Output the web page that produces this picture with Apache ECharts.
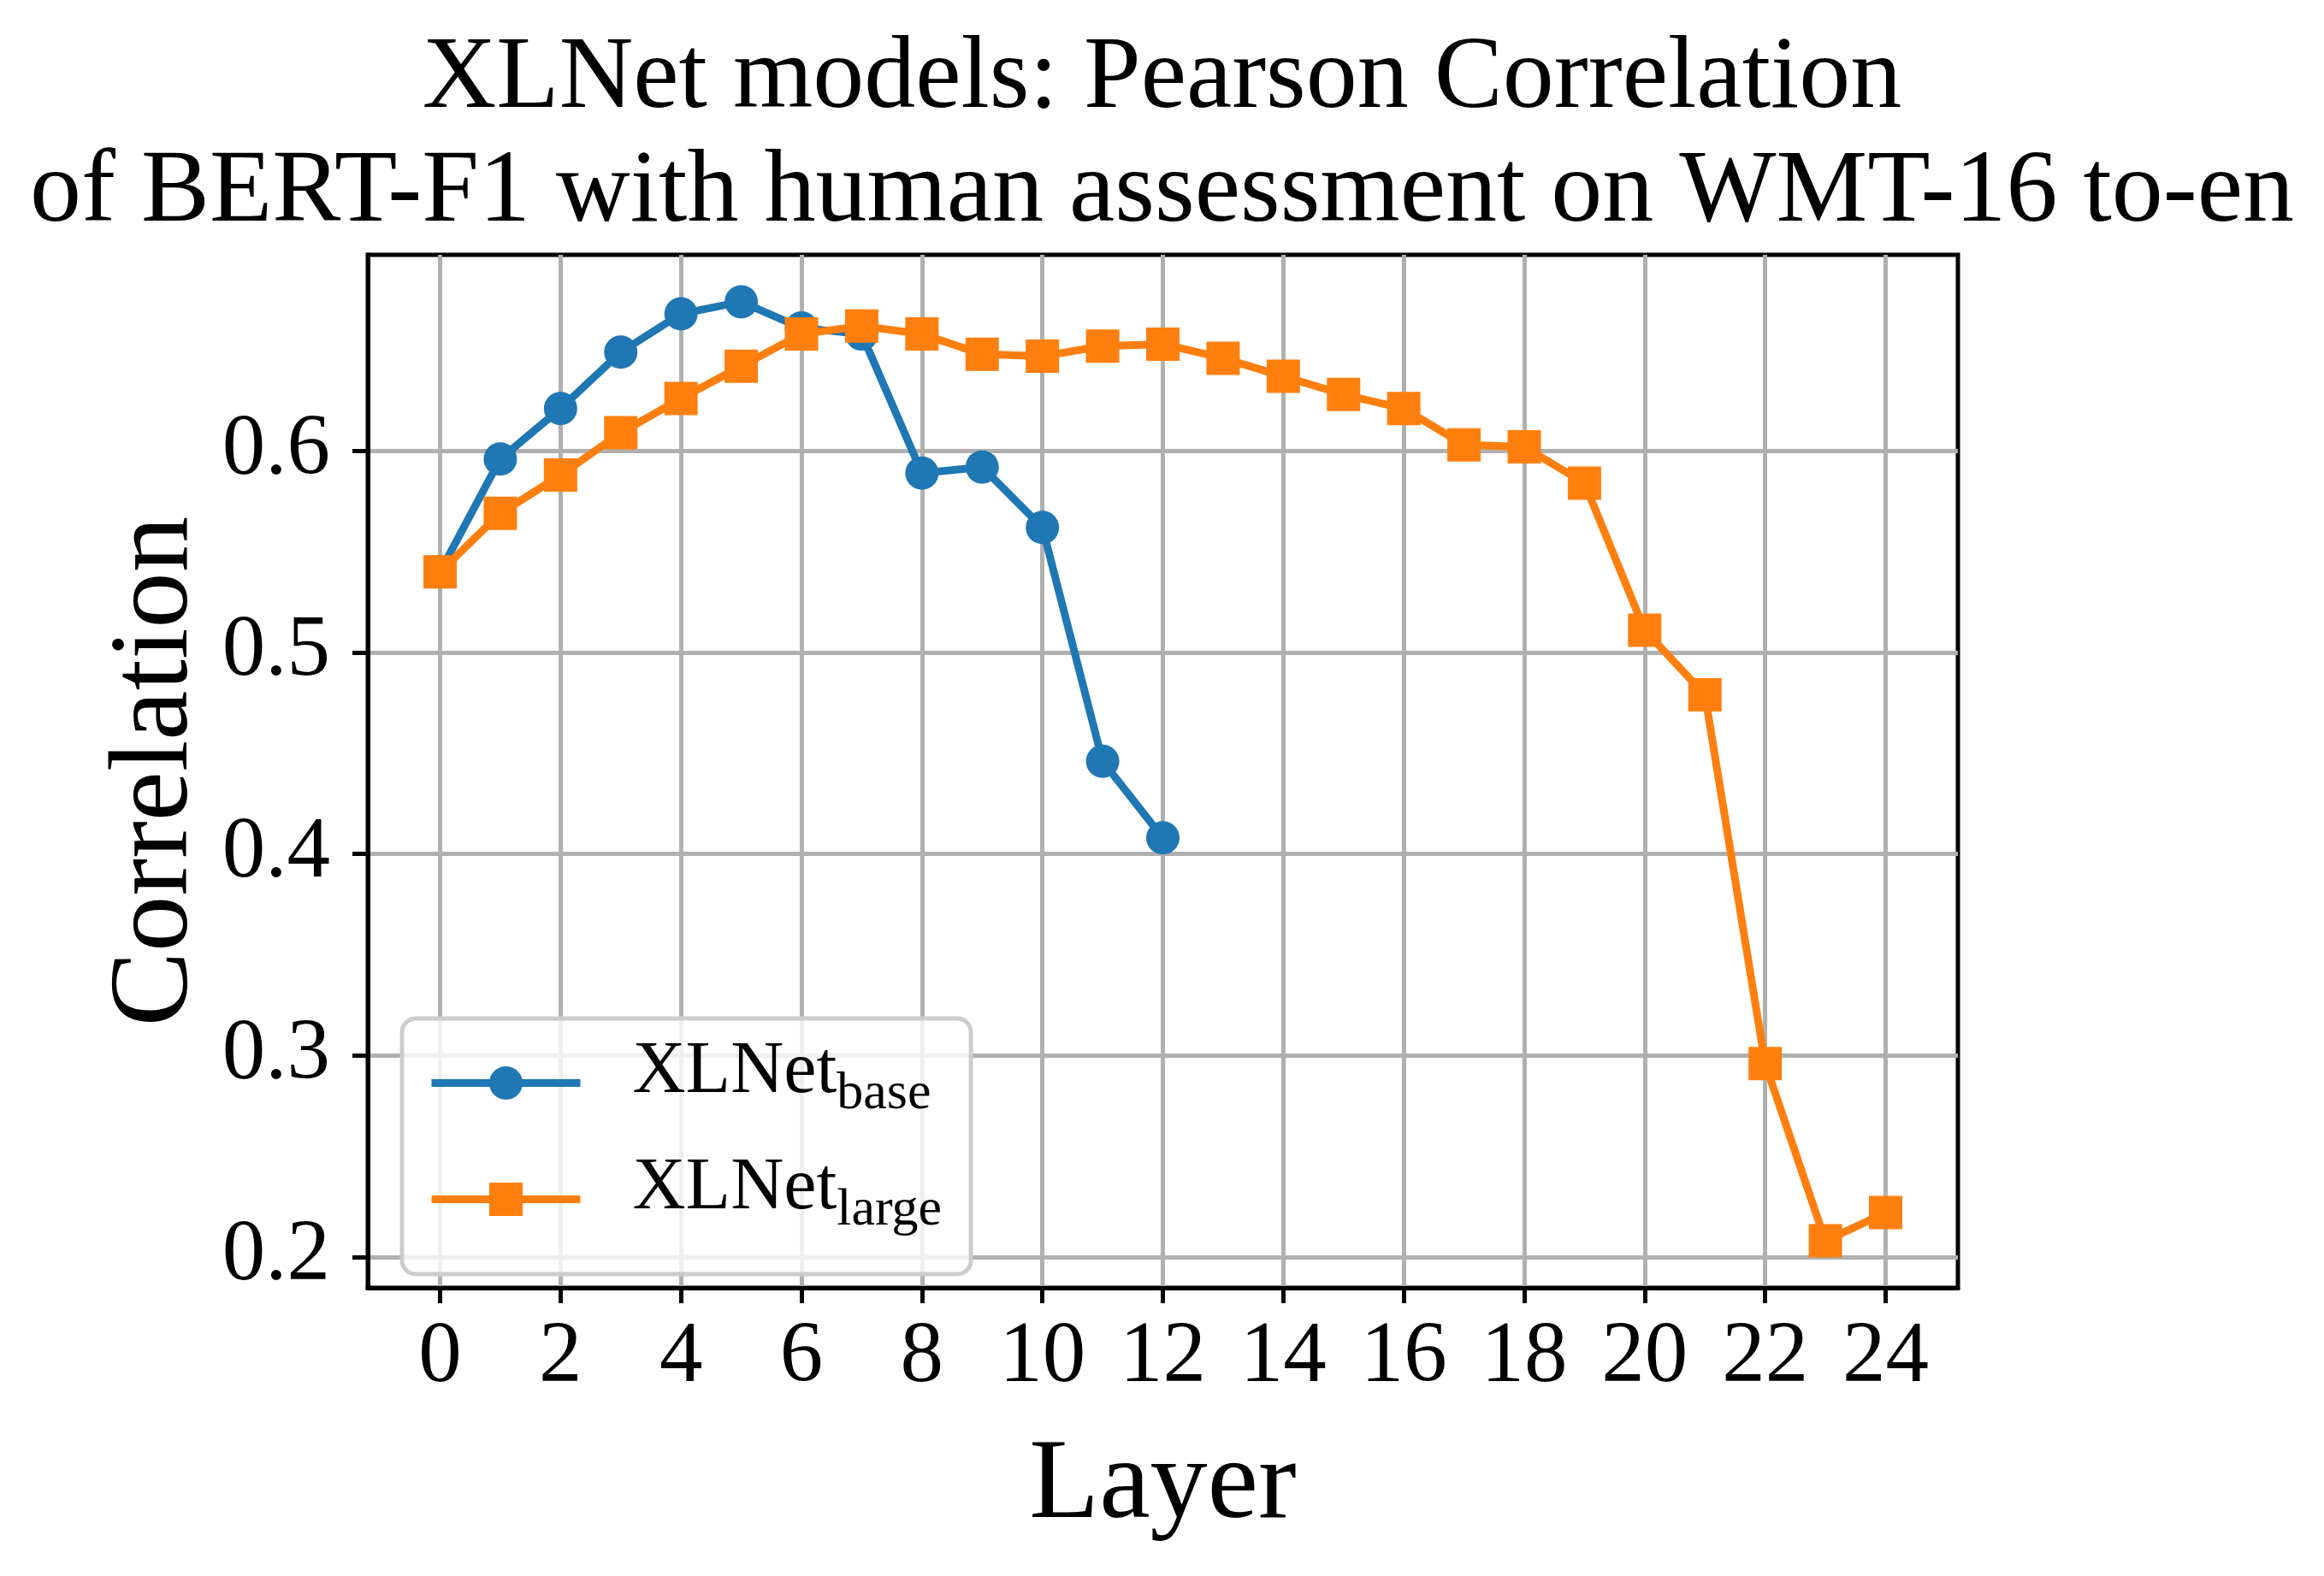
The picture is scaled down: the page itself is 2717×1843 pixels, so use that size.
<!DOCTYPE html>
<html>
<head>
<meta charset="utf-8">
<script src="https://cdn.jsdelivr.net/npm/echarts@6/dist/echarts.min.js"></script>
<style>
html,body{margin:0;padding:0;background:#fff;}
#chart{width:2717px;height:1843px;}
</style>
</head>
<body>
<div id="chart"></div>
<script>
// ---- data ----
const baseLayers = [0,1,2,3,4,5,6,7,8,9,10,11,12];
const baseCorr   = [0.540,0.596,0.621,0.649,0.668,0.674,0.661,0.658,0.589,0.592,0.562,0.446,0.408];
const largeLayers = [0,1,2,3,4,5,6,7,8,9,10,11,12,13,14,15,16,17,18,19,20,21,22,23,24];
const largeCorr   = [0.540,0.569,0.588,0.609,0.626,0.642,0.658,0.662,0.658,0.648,0.647,0.652,0.653,0.646,0.637,0.628,0.621,0.603,0.602,0.584,0.511,0.479,0.296,0.208,0.222];
const xTicks = [0,2,4,6,8,10,12,14,16,18,20,22,24];
const yTicks = [0.2,0.3,0.4,0.5,0.6];
const seriesNames = ['XLNet_base','XLNet_large'];
const legendSubs = ['base','large'];
const titleText = 'XLNet models: Pearson Correlation\nof BERT-F1 with human assessment on WMT-16 to-en';
const xName = 'Layer';
const yName = 'Correlation';

// matplotlib-like 5% margins
function range(vals){
  const mn = Math.min(...vals), mx = Math.max(...vals), pad = (mx-mn)*0.05;
  return [mn-pad, mx+pad];
}
const xr = range(largeLayers.concat(baseLayers));
const yr = range(baseCorr.concat(largeCorr));

const FONT = 'Liberation Serif';
const chart = echarts.init(document.getElementById('chart'), null, {renderer:'canvas'});
chart.setOption({
  animation:false,
  backgroundColor:'#ffffff',
  title:{
    text:titleText,
    left:'center', top:22,
    textStyle:{fontFamily:FONT, fontSize:120, lineHeight:133, fontWeight:'normal', color:'#000'}
  },
  grid:{left:430, top:298, right:428, bottom:337, show:true, borderColor:'#000', borderWidth:5, backgroundColor:'#fff'},
  xAxis:{
    type:'value', min:xr[0], max:xr[1],
    name:xName, nameLocation:'middle', nameGap:166,
    nameTextStyle:{fontFamily:FONT, fontSize:134, color:'#000'},
    axisLine:{show:true, onZero:false, lineStyle:{color:'#000', width:5}},
    axisTick:{show:true, customValues:xTicks, length:18, lineStyle:{color:'#000', width:5}},
    axisLabel:{customValues:xTicks, fontFamily:FONT, fontSize:101, color:'#000', margin:32},
    splitLine:{show:true, lineStyle:{color:'#b0b0b0', width:5}}
  },
  yAxis:{
    type:'value', min:yr[0], max:yr[1],
    name:yName, nameLocation:'middle', nameGap:172,
    nameTextStyle:{fontFamily:FONT, fontSize:131, color:'#000'},
    axisLine:{show:true, onZero:false, lineStyle:{color:'#000', width:5}},
    axisTick:{show:true, customValues:yTicks, length:18, lineStyle:{color:'#000', width:5}},
    axisLabel:{customValues:yTicks, fontFamily:FONT, fontSize:101, color:'#000', margin:44,
      formatter:function(v){return v.toFixed(1);}},
    splitLine:{show:true, lineStyle:{color:'#b0b0b0', width:5}}
  },
  legend:{
    orient:'vertical', left:470, top:1191,
    padding:[20,34,32,30],
    itemWidth:174, itemHeight:49, itemGap:25,
    backgroundColor:'rgba(255,255,255,0.8)',
    borderColor:'#cccccc', borderWidth:5, borderRadius:16,
    lineStyle:{width:9},
    data:seriesNames,
    formatter:function(name){
      const i = seriesNames.indexOf(name);
      return '{a|XLNet}{b|' + legendSubs[i] + '}';
    },
    textStyle:{
      fontFamily:FONT, color:'#000',
      rich:{
        a:{fontFamily:FONT, fontSize:86, lineHeight:100, padding:[0,0,25,56], color:'#000'},
        b:{fontFamily:FONT, fontSize:62, lineHeight:100, padding:[27,0,0,0], color:'#000'}
      }
    }
  },
  series:[
    {
      name:seriesNames[0], type:'line',
      data:baseLayers.map((x,i)=>[x, baseCorr[i]]),
      symbol:'circle', symbolSize:39, showAllSymbol:true,
      lineStyle:{color:'#1f77b4', width:9},
      itemStyle:{color:'#1f77b4'},
      z:2
    },
    {
      name:seriesNames[1], type:'line',
      data:largeLayers.map((x,i)=>[x, largeCorr[i]]),
      symbol:'rect', symbolSize:39, showAllSymbol:true,
      lineStyle:{color:'#ff7f0e', width:9},
      itemStyle:{color:'#ff7f0e'},
      z:3
    }
  ]
});
</script>
</body>
</html>
